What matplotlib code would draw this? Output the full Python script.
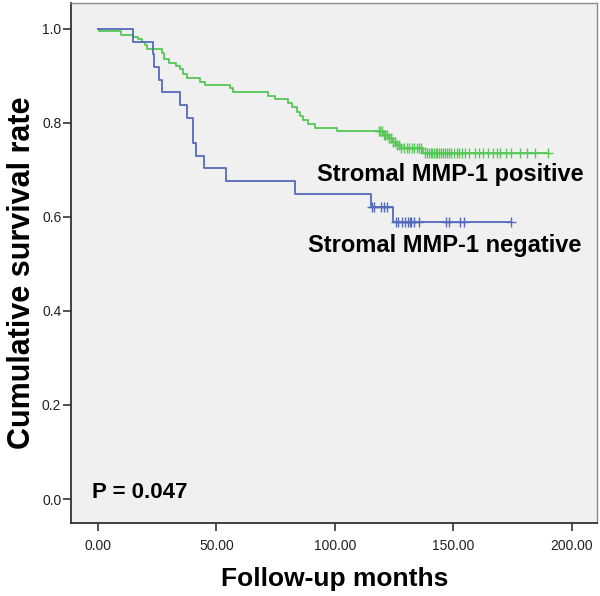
import numpy as np
import matplotlib
matplotlib.use("Agg")
import matplotlib.pyplot as plt

plt.rcParams["font.family"] = ["Liberation Sans", "DejaVu Sans"]

# Kaplan-Meier steps: (event time in months, survival after it)
pos_times = [0.6, 9.6, 14.9, 17.0, 18.4, 19.8, 20.8, 26.9, 28.0, 30.1, 32.9, 34.6,
             36.0, 37.7, 43.0, 45.1, 55.7, 57.1, 71.9, 74.7, 80.3, 81.7, 83.8, 85.2,
             86.6, 88.7, 91.6, 100.7, 120.4, 122.5, 123.9, 126.0, 127.4, 137.3]
pos_surv = [0.995, 0.988, 0.983, 0.978, 0.972, 0.966, 0.957, 0.948, 0.936, 0.928,
            0.921, 0.914, 0.904, 0.895, 0.888, 0.881, 0.874, 0.866, 0.858, 0.850,
            0.842, 0.833, 0.824, 0.815, 0.806, 0.797, 0.789, 0.782, 0.774, 0.767,
            0.760, 0.753, 0.746, 0.735]
pos_censored = [118.5, 119.2, 119.8, 120.6, 121.3, 122.0, 122.8, 123.5, 124.4, 125.2,
                126.3, 127.0, 128.0, 129.3, 130.5, 131.4, 132.6, 133.5, 134.8, 135.6,
                136.2, 138.2, 139.0, 139.7, 140.4, 141.1, 141.8, 142.5, 143.2, 144.0,
                144.8, 145.6, 146.3, 147.1, 148.0, 149.0, 150.2, 151.3, 152.5, 153.6,
                154.8, 156.7, 159.1, 160.9, 162.6, 164.7, 166.5, 168.5, 169.6, 172.2,
                174.1, 178.1, 181.2, 184.4, 189.7]

neg_times = [14.9, 23.1, 23.8, 25.9, 26.9, 34.6, 37.4, 40.0, 41.4, 44.7, 54.0,
             83.1, 115.0, 124.6]
neg_surv = [0.973, 0.946, 0.919, 0.892, 0.865, 0.838, 0.811, 0.757, 0.730, 0.703,
            0.676, 0.649, 0.622, 0.589]
neg_censored = [115.5, 116.6, 119.3, 120.8, 121.8, 125.7, 126.7, 128.1, 129.5, 130.7,
                131.6, 132.3, 133.3, 135.6, 146.8, 148.2, 152.7, 154.4, 174.1]

x_ticks = [0, 50, 100, 150, 200]
y_ticks = [0.0, 0.2, 0.4, 0.6, 0.8, 1.0]

GREEN = "#55c855"
BLUE = "#5569ba"


def km_curve(ax, times, surv, censored, color):
    """draw one survival step line plus its censor marks"""
    t = np.concatenate([[0.0], times, [max(censored)]])
    s = np.concatenate([[1.0], surv, [surv[-1]]])
    ax.step(t, s, where="post", color=color, lw=1.3, zorder=3)
    # censor marks sit on the curve level at that time
    idx = np.searchsorted(t, censored, side="right") - 1
    ax.plot(censored, s[idx], "+", color=color, ms=7, mew=1.0, zorder=4)


fig = plt.figure(figsize=(6.0, 5.96), dpi=100)
ax = fig.add_axes([71 / 600, 1 - 523 / 596, 526.5 / 600, 520 / 596])
ax.set_facecolor("#f0f0f0")

km_curve(ax, pos_times, pos_surv, pos_censored, GREEN)
km_curve(ax, neg_times, neg_surv, neg_censored, BLUE)

ax.set_xlim(-11.4, 210.8)
ax.set_ylim(-0.051, 1.055)
ax.set_xticks(x_ticks)
ax.set_xticklabels(["%.2f" % v for v in x_ticks])
ax.set_yticks(y_ticks)
ax.set_yticklabels(["%.1f" % v for v in y_ticks])
ax.tick_params(axis="both", direction="out", length=5.5, width=1.2,
               color="#333333", labelsize=10, labelcolor="#222222")
ax.tick_params(axis="x", pad=6)
ax.tick_params(axis="y", pad=1.5)

for side in ["left", "bottom"]:
    ax.spines[side].set_color("#333333")
    ax.spines[side].set_linewidth(1.3)
for side in ["top", "right"]:
    ax.spines[side].set_color("#8a8a8a")
    ax.spines[side].set_linewidth(1.0)

ax.set_xlabel("Follow-up months", fontsize=19, fontweight="bold", labelpad=10)
fig.text(22 / 600, 1 - 273 / 596, "Cumulative survival rate", fontsize=22,
         fontweight="bold", rotation=90, ha="center", va="center")

ax.text(92.3, 0.677, "Stromal MMP-1 positive", fontsize=17, fontweight="bold",
        va="baseline", ha="left")
ax.text(88.7, 0.526, "Stromal MMP-1 negative", fontsize=17, fontweight="bold",
        va="baseline", ha="left")
ax.text(-2.7, 0.003, "P = 0.047", fontsize=16, fontweight="bold",
        va="baseline", ha="left")

fig.savefig("out.png", dpi=100, facecolor="white")
